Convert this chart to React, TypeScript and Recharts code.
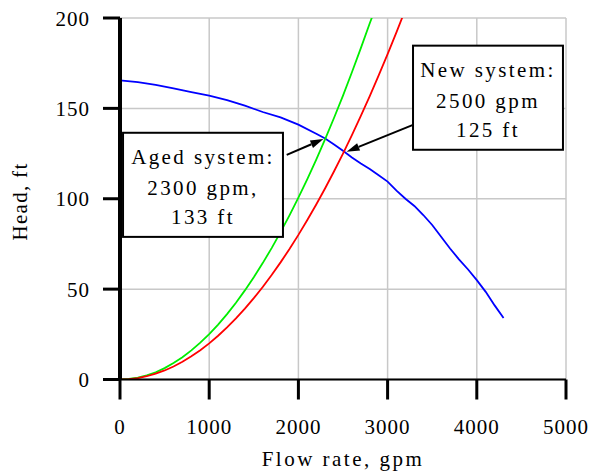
import React from 'react';
import {
  LineChart,
  Line,
  XAxis,
  YAxis,
  CartesianGrid,
  ReferenceLine,
  ReferenceArea,
} from 'recharts';

// pump curve (blue)
const pumpFlow = [0, 200, 400, 600, 800, 1000, 1200, 1400, 1600, 1800, 2000, 2200, 2300, 2400, 2500, 2600, 2700, 2800, 2900, 3000, 3100, 3200, 3300, 3400, 3500, 3600, 3700, 3800, 3900, 4000, 4100, 4200, 4300];
const pumpHead = [165.5, 164.5, 163, 161, 159, 157, 154.5, 151.5, 148, 145, 141, 136, 133.3, 130, 126.5, 122.8, 119.5, 116.5, 113, 109.5, 104.5, 100, 96, 91, 85.5, 79, 72.5, 66.5, 61, 55, 48.5, 41, 34];

// new system curve (red)
const newFlow = [0, 100, 200, 300, 400, 500, 600, 700, 800, 900, 1000, 1100, 1200, 1300, 1400, 1500, 1600, 1700, 1800, 1900, 2000, 2100, 2200, 2300, 2400, 2500, 2600, 2700, 2800, 2900, 3000, 3100, 3170];
const newHead = [0, 0.2, 0.8, 1.8, 3.2, 5, 7.2, 9.8, 12.8, 16.2, 20, 24.2, 28.8, 33.8, 39.2, 45, 51.2, 57.8, 64.8, 72.2, 80, 88.2, 96.8, 105.8, 115.2, 125, 135.2, 145.8, 156.8, 168.2, 180, 192.2, 201];

// aged system curve (green)
const agedFlow = [0, 100, 200, 300, 400, 500, 600, 700, 800, 900, 1000, 1100, 1200, 1300, 1400, 1500, 1600, 1700, 1800, 1900, 2000, 2100, 2200, 2300, 2400, 2500, 2600, 2700, 2800, 2830];
const agedHead = [0, 0.3, 1, 2.3, 4, 6.3, 9.1, 12.3, 16.1, 20.4, 25.1, 30.4, 36.2, 42.5, 49.3, 56.6, 64.4, 72.7, 81.5, 90.8, 100.6, 110.9, 121.7, 133, 144.8, 157.1, 170, 183.3, 197.1, 201];

const xTicks = [0, 1000, 2000, 3000, 4000, 5000];
const yTicks = [0, 50, 100, 150, 200];

// annotations: box corners (flow, head) and arrow start/tip
const agedBoxFlow = [34, 1827];
const agedBoxHead = [78.9, 136.5];
const agedLines = ['Aged system:', '2300 gpm,', '133 ft'];
const agedArrow = [{ x: 1869, y: 124.3 }, { x: 2280, y: 133 }];

const newBoxFlow = [3285, 4966];
const newBoxHead = [127.1, 184.7];
const newLines = ['New system:', '2500 gpm', '125 ft'];
const newArrow = [{ x: 3285, y: 140.9 }, { x: 2540, y: 126 }];

const toPoints = (xs: number[], ys: number[]) => xs.map((flow, i) => ({ flow, head: ys[i] }));

const pumpData = toPoints(pumpFlow, pumpHead);
const newData = toPoints(newFlow, newHead);
const agedData = toPoints(agedFlow, agedHead);

const txt: React.CSSProperties = { fontFamily: 'Liberation Serif', fontSize: 21 };

const XTick = (props: any) => {
  const { x, y, payload } = props;
  return (
    <text x={x} y={y} dy={34} textAnchor="middle" style={{ ...txt, letterSpacing: 1 }} fill="#000">
      {payload.value}
    </text>
  );
};

const YTick = (props: any) => {
  const { x, y, payload } = props;
  return (
    <text x={x} y={y} dy={7.5} textAnchor="end" style={{ ...txt, letterSpacing: 1 }} fill="#000">
      {payload.value}
    </text>
  );
};

const Arrow = (props: any) => {
  const { x1, y1, x2, y2 } = props;
  const ang = Math.atan2(y2 - y1, x2 - x1);
  const len = 13;
  const half = 4;
  const bx = x2 - len * Math.cos(ang);
  const by = y2 - len * Math.sin(ang);
  const px = -Math.sin(ang) * half;
  const py = Math.cos(ang) * half;
  return (
    <g>
      <line x1={x1} y1={y1} x2={bx} y2={by} stroke="#000" strokeWidth={2} />
      <polygon points={`${x2},${y2} ${bx + px},${by + py} ${bx - px},${by - py}`} fill="#000" />
    </g>
  );
};

const makeBox = (lines: string[]) => (props: any) => {
  const { x, y, width, height } = props;
  const cx = x + width / 2;
  const offs = [31.5, 62, 91.5];
  return (
    <g>
      <rect x={x} y={y} width={width} height={height} fill="#fff" stroke="#000" strokeWidth={2} />
      {lines.map((t, i) => (
        <text key={i} x={cx} y={y + offs[i]} textAnchor="middle" style={{ ...txt, letterSpacing: 2.4 }} fill="#000">
          {t}
        </text>
      ))}
    </g>
  );
};

export default function App() {
  return (
    <div style={{ position: 'absolute', left: 0, top: 0, width: 590, height: 472, background: '#fff' }}>
      <LineChart width={590} height={472} margin={{ top: 18, right: 24, bottom: 32.5, left: 20 }}>
        <CartesianGrid stroke="#c8c8c8" strokeWidth={1.5} />
        <XAxis
          dataKey="flow"
          type="number"
          domain={[0, 5000]}
          ticks={xTicks}
          height={60}
          tickSize={20}
          tickMargin={0}
          axisLine={{ stroke: '#000', strokeWidth: 2 }}
          tickLine={{ stroke: '#000', strokeWidth: 3 }}
          tick={<XTick />}
          label={{
            content: (p: any) => {
              const vb = p.viewBox;
              return (
                <text x={vb.x + vb.width / 2} y={vb.y + 86} textAnchor="middle" style={{ ...txt, letterSpacing: 2.5 }} fill="#000">
                  Flow rate, gpm
                </text>
              );
            },
          }}
        />
        <YAxis
          dataKey="head"
          type="number"
          domain={[0, 200]}
          allowDataOverflow
          ticks={yTicks}
          width={100}
          tickSize={17}
          tickMargin={13}
          axisLine={{ stroke: '#000', strokeWidth: 4 }}
          tickLine={{ stroke: '#000', strokeWidth: 3 }}
          tick={<YTick />}
          label={{
            content: () => (
              <text
                x={27}
                y={201.5}
                transform="rotate(-90 27 201.5)"
                textAnchor="middle"
                style={{ ...txt, letterSpacing: 1.3 }}
                fill="#000"
              >
                Head, ft
              </text>
            ),
          }}
        />
        <Line data={pumpData} dataKey="head" stroke="#0000ff" strokeWidth={1.8} dot={false} type="linear" isAnimationActive={false} />
        <Line data={agedData} dataKey="head" stroke="#00ee00" strokeWidth={1.8} dot={false} type="linear" isAnimationActive={false} />
        <Line data={newData} dataKey="head" stroke="#ff0000" strokeWidth={1.8} dot={false} type="linear" isAnimationActive={false} />
        <ReferenceArea
          x1={agedBoxFlow[0]}
          x2={agedBoxFlow[1]}
          y1={agedBoxHead[0]}
          y2={agedBoxHead[1]}
          shape={makeBox(agedLines)}
          zIndex={1000}
        />
        <ReferenceArea
          x1={newBoxFlow[0]}
          x2={newBoxFlow[1]}
          y1={newBoxHead[0]}
          y2={newBoxHead[1]}
          shape={makeBox(newLines)}
          zIndex={1000}
        />
        <ReferenceLine segment={agedArrow} shape={(p: any) => <Arrow {...p} />} zIndex={1000} />
        <ReferenceLine segment={newArrow} shape={(p: any) => <Arrow {...p} />} zIndex={1000} />
      </LineChart>
    </div>
  );
}
